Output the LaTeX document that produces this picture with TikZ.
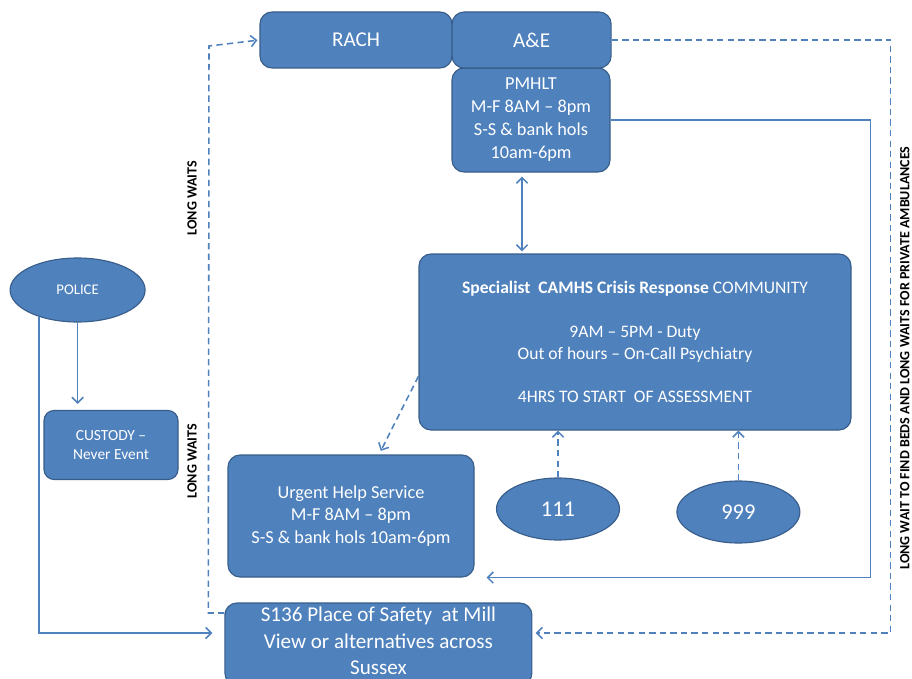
\documentclass[tikz,border=0pt]{standalone}
\usepackage{fontspec}
\setmainfont{Carlito}
\usepackage{tikz}
\usetikzlibrary{shapes.geometric,arrows.meta}

\definecolor{boxblue}{HTML}{4F81BD}
\definecolor{boxedge}{HTML}{385D8A}
\definecolor{linkblue}{HTML}{4F81BD}

\begin{document}
\begin{tikzpicture}[
  >={Straight Barb[length=4pt,width=8pt]},
  box/.style={draw=boxedge, fill=boxblue, rounded corners=0.3cm, text=white, align=center, inner sep=0pt, line width=0.8pt},
  oval/.style={ellipse, draw=boxedge, fill=boxblue, text=white, inner sep=0pt, line width=0.8pt},
  link/.style={linkblue, line width=1.1pt},
  dashlink/.style={link, dash pattern=on 4.5pt off 3pt},
  waits/.style={font=\fontsize{10}{12}\selectfont\bfseries, rotate=90, inner sep=0pt}
]
\useasboundingbox (0cm,0cm) rectangle (22.8cm,-16.975cm);

% hospital end, top row
\node[box, minimum width=3.95cm, minimum height=2.6cm, font=\fontsize{13}{16.4}\selectfont] (pmhlt) at (13.275cm,-3cm)
  {PMHLT\\M-F 8AM -- 8pm\\S-S \& bank hols\\10am-6pm};
\node[box, minimum width=4.8cm, minimum height=1.4cm, font=\fontsize{15}{18}\selectfont] (rach) at (8.9cm,-1cm) {RACH};
\node[box, minimum width=3.975cm, minimum height=1.4cm, font=\fontsize{15}{18}\selectfont] (ae) at (13.29cm,-1cm) {A\&E};

% community team and its routes in
\node[box, minimum width=10.8cm, minimum height=4.4cm, font=\fontsize{12.5}{15.6}\selectfont] (camhs) at (15.875cm,-8.55cm)
  {\textbf{Specialist\ \ CAMHS Crisis Response} COMMUNITY\\[15.6pt]
   9AM -- 5PM - Duty\\Out of hours -- On-Call Psychiatry\\[15.6pt]
   4HRS TO START\ \ OF ASSESSMENT};
\node[box, minimum width=6.15cm, minimum height=3.05cm, font=\fontsize{13}{16}\selectfont] (urgent) at (8.775cm,-12.9cm)
  {Urgent Help Service\\M-F 8AM -- 8pm\\S-S \& bank hols 10am-6pm};
\node[oval, minimum width=3.075cm, minimum height=1.55cm, font=\fontsize{16}{19}\selectfont] (n111) at (13.95cm,-12.725cm) {111};
\node[oval, minimum width=3.075cm, minimum height=1.55cm, font=\fontsize{16}{19}\selectfont] (n999) at (18.46cm,-12.8cm) {999};

% police side
\node[oval, minimum width=3.375cm, minimum height=1.6cm, font=\fontsize{10.5}{13}\selectfont] (police) at (1.94cm,-7.25cm) {POLICE};
\node[box, rounded corners=0.25cm, minimum width=3.35cm, minimum height=1.725cm, font=\fontsize{11}{14}\selectfont] (custody) at (2.775cm,-11.125cm)
  {CUSTODY --\\Never Event};
% empty last row lifts the text a little inside the box
\node[box, minimum width=7.675cm, minimum height=2.05cm, font=\fontsize{15}{18.6}\selectfont] (s136) at (9.46cm,-16.1cm)
  {S136 Place of Safety\ \ at Mill\\View or alternatives across\\Sussex\\[-14pt]\mbox{}};

% solid connectors
\draw[link,->,shorten >=0.15cm] (police.south) -- (police.south |- custody.north);
\draw[link,->,shorten >=0.3cm] (police.215) |- ([yshift=0.275cm]s136.west);
\draw[link,<->,shorten <=0.1cm,shorten >=0.05cm] ([xshift=-0.225cm]pmhlt.south) -- ([xshift=-0.225cm]pmhlt.south |- camhs.north);
\draw[link,->,shorten >=0.3cm] (pmhlt.east) -- ++(6.5cm,0) |- (urgent.south east);

% dashed connectors
\draw[dashlink,->,shorten >=0.08cm] (ae.east) -- ++(6.975cm,0) |- ([yshift=0.275cm]s136.east);
\draw[dashlink,->] (n111.north) -- (n111.north |- camhs.south);
\draw[dashlink,->] (n999.north) -- (n999.north |- camhs.south);
\draw[dashlink,->,shorten >=0.1cm] (camhs.189) -- ([xshift=0.7cm]urgent.north);
\draw[dashlink,->,shorten >=0.05cm] ([yshift=0.775cm]s136.west) -- ++(-0.4cm,0) -- (5.225cm,-1.15cm) -- (rach.west);

% side notes
\node[waits] (waitsup) at (4.8cm,-4.95cm) {LONG WAITS};
\node[waits] (waitsdown) at (4.8cm,-11.525cm) {LONG WAITS};
\node[waits] (bedswait) at (22.62cm,-8.95cm) {LONG WAIT TO FIND BEDS AND LONG WAITS FOR PRIVATE AMBULANCES};
\end{tikzpicture}
\end{document}
